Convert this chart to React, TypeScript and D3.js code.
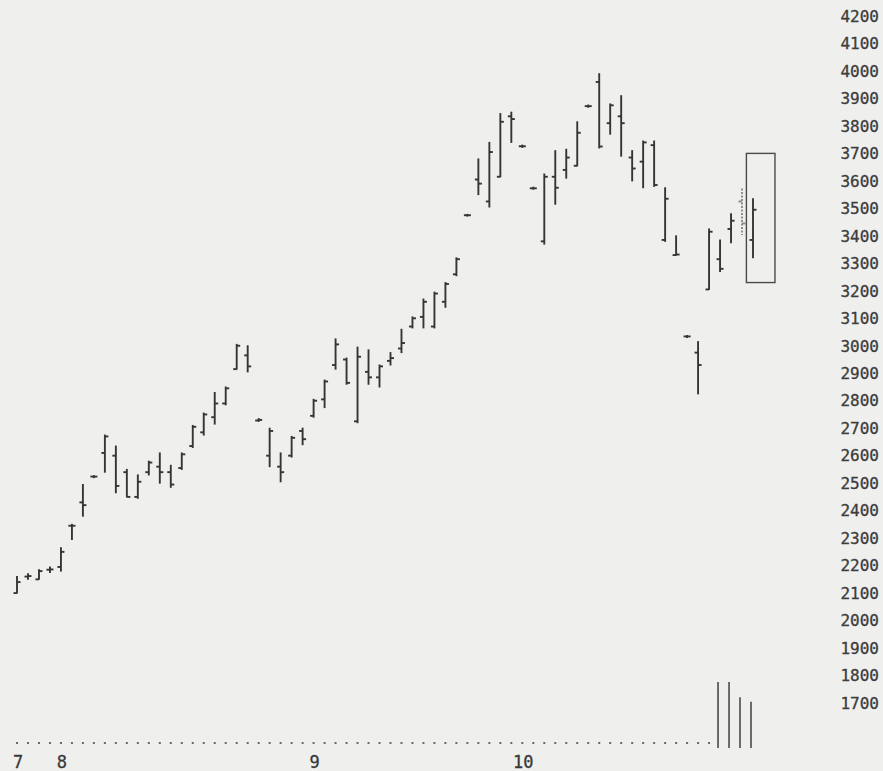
import React from 'react';
import * as d3 from 'd3';

// daily bars, one slot per trading day
const highs = [
  2160, 2170, 2185, 2195, 2265, 2350, 2495, 2527, 2675, 2635,
  2550, 2530, 2580, 2610, 2565, 2610, 2710, 2755, 2830, 2850,
  3005, 3000, 2735, 2700, 2610, 2670, 2700, 2805, 2875, 3025,
  2955, 2995, 2985, 2930, 2975, 3060, 3105, 3170, 3195, 3230,
  3320, 3478, 3680, 3740, 3845, 3850, 3730, 3577, 3625, 3710,
  3715, 3815, 3876, 3990, 3880, 3910, 3710, 3745, 3745, 3575,
  3400, 3037, 3015, 3425, 3385, 3480, 3570, 3535,
];
const lows = [
  2100, 2150, 2150, 2175, 2180, 2295, 2380, 2520, 2540, 2465,
  2450, 2445, 2530, 2500, 2485, 2550, 2630, 2675, 2715, 2785,
  2915, 2905, 2725, 2560, 2505, 2595, 2640, 2740, 2775, 2915,
  2860, 2720, 2860, 2850, 2930, 2975, 3065, 3065, 3065, 3140,
  3255, 3472, 3550, 3505, 3615, 3740, 3722, 3570, 3370, 3515,
  3610, 3655, 3868, 3720, 3770, 3690, 3600, 3575, 3580, 3380,
  3330, 3030, 2825, 3205, 3270, 3375, 3405, 3320,
];
const opens = [
  2100, 2160, 2150, 2185, 2195, 2345, 2430, 2524, 2610, 2600,
  2540, 2450, 2540, 2560, 2540, 2555, 2635, 2685, 2740, 2790,
  2915, 2965, 2728, 2600, 2560, 2600, 2690, 2745, 2805, 2930,
  2950, 2725, 2905, 2885, 2945, 2990, 3070, 3105, 3070, 3160,
  3260, 3475, 3605, 3525, 3615, 3835, 3726, 3573, 3380, 3615,
  3640, 3655, 3872, 3960, 3810, 3835, 3685, 3670, 3730, 3385,
  3330, 3034, 2975, 3205, 3315, 3425, 3525, 3385,
];
const closes = [
  2140, 2162, 2180, 2186, 2250, 2345, 2420, 2524, 2670, 2490,
  2450, 2505, 2575, 2540, 2495, 2605, 2705, 2750, 2790, 2845,
  3000, 2925, 2730, 2690, 2540, 2665, 2660, 2800, 2870, 3005,
  2865, 2960, 2885, 2925, 2955, 3010, 3100, 3160, 3190, 3225,
  3315, 3475, 3590, 3705, 3815, 3825, 3726, 3573, 3615, 3575,
  3685, 3775, 3872, 3725, 3875, 3810, 3645, 3740, 3585, 3535,
  3332, 3034, 2930, 3415, 3280, 3455, 3445, 3495,
];
// volume only recorded for the last four sessions
const volumes = [
  0, 0, 0, 0, 0, 0, 0, 0, 0, 0, 0, 0, 0, 0, 0, 0, 0, 0, 0, 0,
  0, 0, 0, 0, 0, 0, 0, 0, 0, 0, 0, 0, 0, 0, 0, 0, 0, 0, 0, 0,
  0, 0, 0, 0, 0, 0, 0, 0, 0, 0, 0, 0, 0, 0, 0, 0, 0, 0, 0, 0,
  0, 0, 0, 0, 100, 100, 77, 70,
];

const monthSlots = [0, 4, 27, 46];
const monthLabels = ['7', '8', '9', '10'];
const priceTicks = d3.range(1700, 4201, 100);

// highlighted box (slot span, price span)
const boxSlots = [66.4, 69];
const boxPrices = [3230, 3700];

const W = 883;
const H = 771;
const ink = '#353535';
const font = '"DejaVu Sans Mono", "Liberation Mono", monospace';

const App = () => {
  const x = d3.scaleLinear().domain([0, 67]).range([17, 753]);
  const y = d3.scaleLinear().domain([1700, 4200]).range([703, 16]);
  const v = d3.scaleLinear().domain([0, 100]).range([748, 682]);
  const tick = 3.5;

  return (
    <svg
      width={W}
      height={H}
      style={{ position: 'absolute', left: 0, top: 0, background: '#efefed' }}
    >
      {/* price axis labels */}
      {priceTicks.map(p => (
        <text
          key={p}
          x={879}
          y={y(p)}
          dy="0.36em"
          textAnchor="end"
          fontFamily={font}
          fontSize={16}
          fill="#3c3c3c"
          stroke="#3c3c3c"
          strokeWidth={0.3}
        >
          {p}
        </text>
      ))}

      {/* OHLC bars */}
      {highs.map((h, i) => {
        const cx = x(i);
        const faint = i === 66;
        return (
          <g key={i} stroke={faint ? '#8a8a8a' : ink} strokeWidth={1.9}>
            <line x1={cx} x2={cx} y1={y(h) - 0.5} y2={y(lows[i]) + 0.5}
              strokeDasharray={faint ? '2 1.5' : undefined} />
            <line x1={cx - tick} x2={cx} y1={y(opens[i])} y2={y(opens[i])} />
            <line x1={cx} x2={cx + tick} y1={y(closes[i])} y2={y(closes[i])} />
          </g>
        );
      })}

      {/* highlight box */}
      <rect
        x={x(boxSlots[0])}
        y={y(boxPrices[1])}
        width={x(boxSlots[1]) - x(boxSlots[0])}
        height={y(boxPrices[0]) - y(boxPrices[1])}
        fill="none"
        stroke="#4a4a4a"
        strokeWidth={1.4}
      />

      {/* volume: dots for empty sessions, bars otherwise */}
      {volumes.map((vol, i) =>
        vol === 0 ? (
          <rect key={i} x={x(i) - 1} y={742} width={2} height={2} fill="#6a6a6a" />
        ) : (
          <line key={i} x1={x(i) - 2} x2={x(i) - 2} y1={v(0)} y2={v(vol)}
            stroke="#4a4a4a" strokeWidth={1.6} />
        )
      )}

      {/* month labels */}
      {monthSlots.map((s, k) => (
        <text
          key={s}
          x={x(s) + 1}
          y={768}
          textAnchor="middle"
          fontFamily={font}
          fontSize={17}
          fill="#383838"
          stroke="#383838"
          strokeWidth={0.3}
        >
          {monthLabels[k]}
        </text>
      ))}
    </svg>
  );
};

export default App;
